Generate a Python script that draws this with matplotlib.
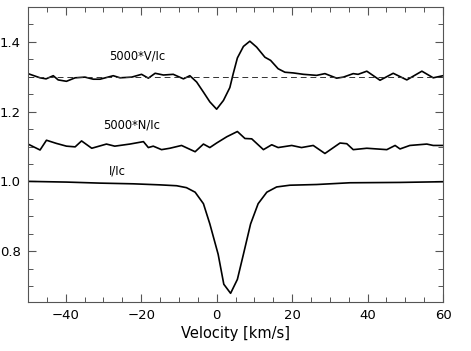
import matplotlib
matplotlib.use("Agg")
import matplotlib.pyplot as plt
from matplotlib.ticker import MultipleLocator

# Stokes V profile (scaled by 5000, offset to 1.3)
v_vel = [-50, -46.8, -45.2, -43.3, -42, -39.8, -37.5, -34.9, -32.7, -30.9, -27.4, -25.6,
         -22.5, -19.9, -18.1, -16.3, -14.1, -11.5, -8.8, -7.1, -5.3, -3.5, -1.8, 0,
         1.8, 3.5, 4.4, 5.5, 7.1, 8.8, 10.6, 12.8, 14.3, 16.3, 18.1, 20.3, 23.0, 26.5,
         28.7, 31.8, 33.6, 36.2, 37.5, 39.8, 43.3, 46.8, 50.4, 54.4, 57.4, 60]
v_val = [1.309, 1.297, 1.294, 1.303, 1.291, 1.287, 1.297, 1.299, 1.293, 1.293, 1.303, 1.297,
         1.299, 1.307, 1.296, 1.310, 1.305, 1.307, 1.294, 1.303, 1.285, 1.256, 1.228, 1.207,
         1.232, 1.269, 1.309, 1.354, 1.387, 1.402, 1.385, 1.356, 1.347, 1.323, 1.313, 1.311,
         1.307, 1.304, 1.309, 1.296, 1.299, 1.309, 1.307, 1.316, 1.290, 1.310, 1.291, 1.316,
         1.297, 1.303]

# null profile N (scaled by 5000, offset to 1.1)
n_vel = [-50, -46.8, -45.1, -42.5, -39.8, -37.5, -35.8, -33.1, -29.2, -27, -23, -19.4,
         -18.1, -16.8, -14.6, -12.4, -9.3, -5.7, -3.5, -1.8, 0, 2.7, 5.5, 7.5, 9.3, 12.4,
         14.6, 16.3, 19.9, 22.5, 25.6, 28.7, 32.7, 34.5, 36.2, 39.8, 45.1, 47.3, 48.6,
         51.2, 55.7, 57.4, 60]
n_val = [1.107, 1.090, 1.118, 1.109, 1.101, 1.099, 1.116, 1.095, 1.107, 1.101, 1.107, 1.114,
         1.097, 1.101, 1.091, 1.095, 1.103, 1.085, 1.107, 1.097, 1.110, 1.128, 1.143, 1.123,
         1.122, 1.091, 1.105, 1.097, 1.103, 1.097, 1.103, 1.080, 1.110, 1.108, 1.091, 1.095,
         1.091, 1.103, 1.093, 1.103, 1.107, 1.103, 1.103]

# intensity profile I/Ic
i_vel = [-50, -39.8, -30.9, -22.1, -15, -10.6, -8, -5.7, -3.5, -1.8, 0.4, 1.9, 3.7, 5.5,
         7.1, 9.0, 11.0, 13.3, 15.9, 19.4, 26.5, 35.3, 48.6, 60]
i_val = [1.0, 0.998, 0.995, 0.993, 0.990, 0.9875, 0.982, 0.969, 0.936, 0.878, 0.791, 0.705,
         0.679, 0.719, 0.791, 0.878, 0.936, 0.969, 0.984, 0.989, 0.991, 0.996, 0.997, 0.999]

fig = plt.figure(figsize=(4.71, 3.51), dpi=100)
ax = fig.add_axes([0.0594, 0.1405, 0.8812, 0.8395])

ax.plot(v_vel, v_val, color='black', lw=1.2)
ax.plot(n_vel, n_val, color='black', lw=1.2)
ax.plot(i_vel, i_val, color='black', lw=1.2)
ax.axhline(1.3, color='#333333', lw=0.7, ls=(0, (6, 4)))

ax.text(-28.5, 1.359, '5000*V/Ic', fontsize=8.3, ha='left', va='center')
ax.text(-30.1, 1.161, '5000*N/Ic', fontsize=8.3, ha='left', va='center')
ax.text(-28.5, 1.030, 'I/Ic', fontsize=8.3, ha='left', va='center')

ax.set_xlim(-50, 60)
ax.set_ylim(0.655, 1.5)
ax.xaxis.set_major_locator(MultipleLocator(20))
ax.xaxis.set_minor_locator(MultipleLocator(5))
ax.yaxis.set_major_locator(MultipleLocator(0.2))
ax.yaxis.set_minor_locator(MultipleLocator(0.05))
ax.yaxis.set_major_formatter(plt.FormatStrFormatter('%.1f'))
ax.tick_params(which='both', direction='in', top=True, right=True, color='#555555',
               labelsize=9.5, pad=5)
ax.tick_params(which='major', length=6, width=0.8)
ax.tick_params(which='minor', length=3.5, width=0.7)
for s in ax.spines.values():
    s.set_color('#555555')
    s.set_linewidth(0.8)
ax.set_xlabel('Velocity [km/s]', fontsize=10.5, labelpad=3)

fig.savefig('out.png', dpi=100)
